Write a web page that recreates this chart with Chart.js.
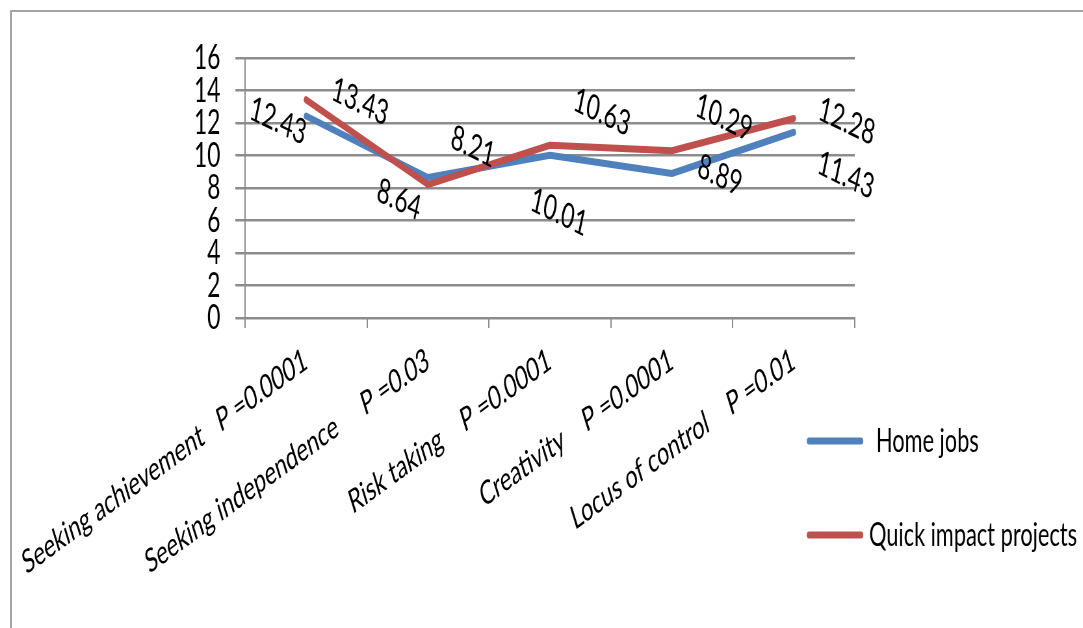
<!DOCTYPE html>
<html>
<head>
<meta charset="utf-8">
<script src="https://cdn.jsdelivr.net/npm/chart.js@4.4.1/dist/chart.umd.min.js"></script>
<style>
    html, body { margin: 0; padding: 0; background: #fff; overflow: hidden; width: 1083px; height: 628px; }
    .rule { position: absolute; background: #a5a5a5; }
    #ruleTop { left: 10px; top: 10px; width: 1073px; height: 2px; }
    #ruleLeft { left: 10px; top: 10px; width: 2px; height: 618px; }
    #clip { position: absolute; left: 0; top: 0; width: 1083px; height: 628px; overflow: hidden; }
    /* the original chart is horizontally condensed, so draw wide and squeeze */
    #wrap {
        position: absolute; left: 0; top: 0; width: 1666px; height: 628px;
        transform: scaleX(0.65); transform-origin: 0 0;
    }
</style>
</head>
<body>
<div class="rule" id="ruleTop"></div>
<div class="rule" id="ruleLeft"></div>
<div id="clip"><div id="wrap"><canvas id="chart"></canvas></div></div>
<script>
var SQUISH = 0.65;

// Chart data
var categories = [
    "Seeking achievement   P =0.0001",
    "Seeking independence     P =0.03",
    "Risk taking    P =0.0001",
    "Creativity    P =0.0001",
    "Locus of control    P =0.01"
];
var homeJobs = [12.43, 8.64, 10.01, 8.89, 11.43];
var quickImpact = [13.43, 8.21, 10.63, 10.29, 12.28];
var yTicks = [0, 2, 4, 6, 8, 10, 12, 14, 16];

// label offsets from each point, in screen px (styling only)
var homeJobsLabelOffset = [[-28, 5], [-29, 22], [9, 57], [48, 2], [52, 43]];
var quickImpactLabelOffset = [[54, 2], [45, -38], [52, -33], [52, -33], [53, 3]];

var FONT = "Lato, 'Open Sans', sans-serif";
var GRID = "#8c8c8c";

// Draw the value labels, rotated like the original
var valueLabels = {
    id: "valueLabels",
    afterDatasetsDraw: function (chart) {
        var ctx = chart.ctx;
        chart.data.datasets.forEach(function (ds, i) {
            var meta = chart.getDatasetMeta(i);
            meta.data.forEach(function (pt, j) {
                var off = ds.labelOffset[j];
                ctx.save();
                ctx.translate(pt.x + off[0] / SQUISH, pt.y + off[1]);
                ctx.rotate(17.6 * Math.PI / 180);
                ctx.font = "35px " + FONT;
                ctx.fillStyle = "#000";
                ctx.textAlign = "center";
                ctx.textBaseline = "middle";
                ctx.fillText(ds.data[j].toFixed(2), 0, 0);
                ctx.restore();
            });
        });
    }
};

// Legend sits below the plot, on the right
var sideLegend = {
    id: "sideLegend",
    afterDraw: function (chart) {
        var ctx = chart.ctx;
        var rows = [441, 535];
        chart.data.datasets.forEach(function (ds, i) {
            var y = rows[i];
            ctx.save();
            ctx.strokeStyle = ds.borderColor;
            ctx.lineWidth = 7;
            ctx.lineCap = "round";
            ctx.beginPath();
            ctx.moveTo(809 / SQUISH, y);
            ctx.lineTo(861 / SQUISH, y);
            ctx.stroke();
            ctx.font = "33.5px " + FONT;
            ctx.fillStyle = "#000";
            ctx.textAlign = "left";
            ctx.textBaseline = "middle";
            ctx.fillText(ds.label, (i === 0 ? 876 : 869) / SQUISH, y);
            ctx.restore();
        });
    }
};

var ctx = document.getElementById("chart").getContext("2d");

var myChart = new Chart(ctx, {
    type: "line",
    data: {
        labels: categories,
        datasets: [
            {
                label: "Home jobs",
                data: homeJobs,
                labelOffset: homeJobsLabelOffset,
                borderColor: "#4f81bd",
                backgroundColor: "#4f81bd",
                order: 1
            },
            {
                label: "Quick impact projects",
                data: quickImpact,
                labelOffset: quickImpactLabelOffset,
                borderColor: "#c0504d",
                backgroundColor: "#c0504d",
                order: 0
            }
        ]
    },
    options: {
        responsive: true,
        maintainAspectRatio: false,
        animation: false,
        elements: {
            line: {
                borderWidth: 7,
                tension: 0,
                borderCapStyle: "round",
                borderJoinStyle: "round",
                fill: false
            },
            point: { radius: 0 }
        },
        layout: {
            padding: { left: 20, top: 58, right: 351, bottom: 10 }
        },
        plugins: {
            legend: { display: false },
            tooltip: { enabled: false }
        },
        scales: {
            x: {
                offset: true,
                grid: {
                    offset: true,
                    drawOnChartArea: false,
                    tickLength: 10,
                    color: GRID,
                    lineWidth: 2
                },
                border: { display: true, color: GRID, width: 2 },
                ticks: {
                    autoSkip: false,
                    minRotation: 25.5,
                    maxRotation: 25.5,
                    padding: 12,
                    color: "#000",
                    font: { family: FONT, size: 33 }
                },
                afterFit: function (s) {
                    s.height = 300;
                    // rotated labels may run past the left edge, like the original
                    s.paddingLeft = 0;
                    s.paddingRight = 0;
                }
            },
            y: {
                min: 0,
                max: 16,
                afterBuildTicks: function (s) {
                    s.ticks = yTicks.map(function (v) { return { value: v }; });
                },
                grid: {
                    color: GRID,
                    lineWidth: 2.5,
                    tickLength: 15
                },
                border: { display: true, color: GRID, width: 2 },
                ticks: {
                    autoSkip: false,
                    padding: 23,
                    color: "#000",
                    font: { family: FONT, size: 35 }
                },
                afterFit: function (s) { s.width = 377 - 20; }
            }
        }
    },
    plugins: [valueLabels, sideLegend]
});
</script>
</body>
</html>
